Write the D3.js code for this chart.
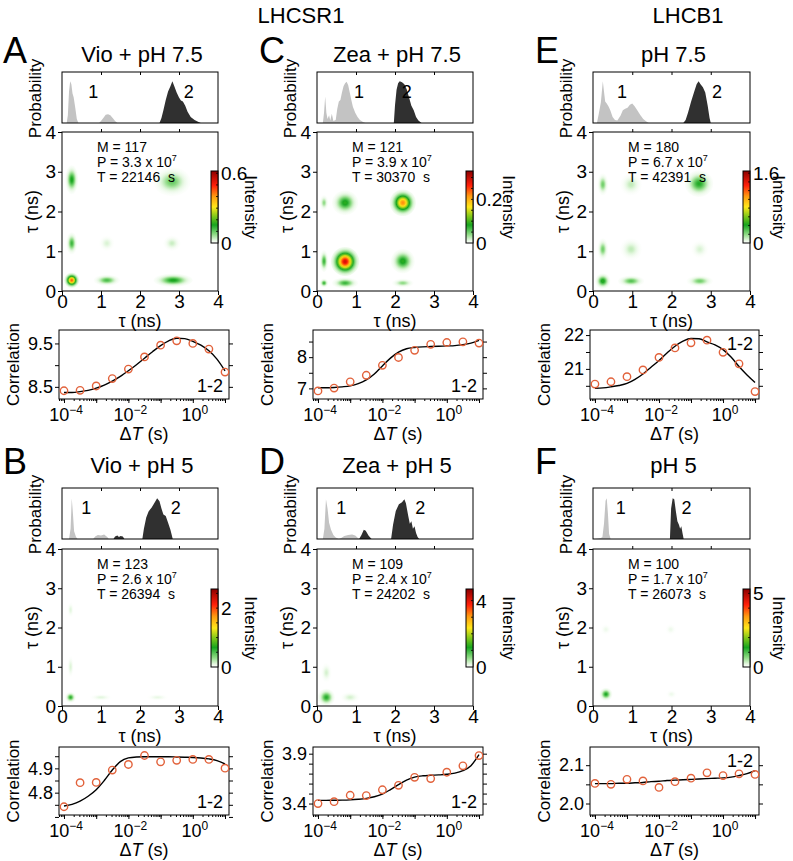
<!DOCTYPE html>
<html>
<head>
<meta charset="utf-8">
<script src="https://cdn.jsdelivr.net/npm/d3@7"></script>
<style>
body { margin: 0; background: #fff; }
svg { font-family: "Liberation Sans", Arial, sans-serif; }
</style>
</head>
<body>
<svg id="fig" width="793" height="861"></svg>
<script>
// ---------------- data ----------------
const groupHeaders = ["LHCSR1", "LHCB1"];
const panelLetters = ["A", "C", "E", "B", "D", "F"];
const panelTitles = ["Vio + pH 7.5", "Zea + pH 7.5", "pH 7.5", "Vio + pH 5", "Zea + pH 5", "pH 5"];
const statM = [117, 121, 180, 123, 109, 100];
const statP = ["3.3", "3.9", "6.7", "2.6", "2.4", "1.7"];
const statT = [22146, 30370, 42391, 26394, 24202, 26073];
const tauTicks = [0, 1, 2, 3, 4];

// lifetime distributions, [tau (ns), probability]
const histA1 = [[0.12,0],[0.15,0.15],[0.18,0.62],[0.21,0.82],[0.24,0.76],[0.27,0.58],[0.3,0.5],[0.34,0.3],[0.38,0.08],[0.42,0],[0.95,0],[1.0,0.04],[1.06,0.1],[1.12,0.16],[1.18,0.17],[1.24,0.15],[1.3,0.1],[1.36,0.04],[1.42,0]];
const histA2 = [[2.5,0],[2.55,0.1],[2.6,0.25],[2.66,0.45],[2.72,0.62],[2.78,0.72],[2.83,0.82],[2.88,0.72],[2.94,0.6],[3.0,0.5],[3.05,0.44],[3.1,0.42],[3.16,0.34],[3.22,0.22],[3.3,0.12],[3.4,0.06],[3.5,0.02],[3.56,0]];
const histC1 = [[0.15,0],[0.18,0.2],[0.21,0.52],[0.24,0.2],[0.27,0.08],[0.31,0.15],[0.34,0.05],[0.38,0.18],[0.42,0.04],[0.48,0.06],[0.52,0.28],[0.56,0.42],[0.6,0.45],[0.64,0.6],[0.68,0.72],[0.72,0.78],[0.76,0.81],[0.8,0.74],[0.84,0.6],[0.88,0.45],[0.92,0.32],[0.98,0.2],[1.04,0.12],[1.1,0.06],[1.18,0.02],[1.24,0]];
const histC2 = [[1.97,0],[2.0,0.35],[2.04,0.65],[2.08,0.78],[2.12,0.82],[2.18,0.8],[2.24,0.76],[2.3,0.66],[2.36,0.5],[2.42,0.34],[2.48,0.25],[2.54,0.12],[2.6,0.05],[2.68,0]];
const histE1 = [[0.1,0],[0.14,0.15],[0.2,0.4],[0.25,0.82],[0.28,0.62],[0.31,0.42],[0.35,0.38],[0.4,0.32],[0.44,0.25],[0.5,0.12],[0.56,0.06],[0.62,0.05],[0.7,0.14],[0.76,0.25],[0.82,0.28],[0.88,0.3],[0.94,0.36],[1.0,0.38],[1.06,0.33],[1.12,0.26],[1.2,0.16],[1.28,0.08],[1.36,0.03],[1.42,0]];
const histE2 = [[2.3,0],[2.36,0.06],[2.42,0.2],[2.5,0.42],[2.58,0.62],[2.64,0.76],[2.69,0.82],[2.74,0.76],[2.8,0.7],[2.86,0.6],[2.92,0.35],[2.97,0.1],[3.0,0]];
const histB1 = [[0.18,0],[0.22,0.2],[0.25,0.8],[0.28,0.5],[0.31,0.15],[0.36,0.04],[0.4,0],[0.8,0],[0.85,0.05],[0.92,0.08],[1.0,0.07],[1.08,0.09],[1.16,0.04],[1.2,0]];
const histB2 = [[1.32,0],[1.36,0.05],[1.42,0.07],[1.46,0.04],[1.5,0.06],[1.56,0.05],[1.6,0],[2.06,0],[2.1,0.2],[2.16,0.42],[2.22,0.54],[2.3,0.62],[2.38,0.72],[2.44,0.8],[2.5,0.74],[2.55,0.6],[2.6,0.48],[2.66,0.45],[2.72,0.32],[2.78,0.18],[2.84,0]];
const histD1 = [[0.15,0],[0.19,0.2],[0.23,0.78],[0.27,0.6],[0.31,0.32],[0.36,0.18],[0.42,0.08],[0.48,0.03],[0.56,0],[0.62,0.02],[0.7,0.06],[0.8,0.08],[0.9,0.09],[0.98,0.07],[1.05,0.02],[1.09,0]];
const histD2 = [[1.08,0],[1.14,0.08],[1.2,0.18],[1.25,0.16],[1.32,0.07],[1.4,0],[1.9,0],[1.95,0.28],[2.02,0.55],[2.1,0.68],[2.18,0.72],[2.24,0.78],[2.28,0.7],[2.34,0.45],[2.38,0.3],[2.42,0.35],[2.46,0.2],[2.5,0.25],[2.54,0.12],[2.58,0.04],[2.62,0]];
const histF1 = [[0.05,0],[0.2,0.02],[0.24,0.04],[0.28,0.3],[0.32,0.75],[0.35,0.8],[0.38,0.5],[0.41,0.1],[0.45,0]];
const histF2 = [[1.96,0],[1.99,0.6],[2.03,0.8],[2.07,0.78],[2.11,0.55],[2.15,0.35],[2.19,0.28],[2.22,0.2],[2.25,0.25],[2.28,0.12],[2.31,0]];
// where the "1" / "2" state labels sit (tau)
const stateLabelTau = [[0.8,3.25],[1.08,2.3],[0.74,3.16],[0.62,2.92],[0.62,2.65],[0.71,2.38]];

// 2D lifetime correlation spots: [tau1, tau2, intensity, sigma1, sigma2]
const spotsA = [[0.25,0.27,0.45,0.07,0.07],[1.15,0.27,0.12,0.12,0.05],[2.85,0.27,0.16,0.18,0.06],[0.25,1.2,0.13,0.05,0.1],[0.25,2.8,0.16,0.06,0.13],[2.82,2.75,0.1,0.17,0.13],[1.15,1.2,0.03,0.07,0.07],[2.82,1.2,0.04,0.08,0.07]];
const spotsC = [[0.72,0.74,0.29,0.13,0.13],[2.2,2.22,0.22,0.12,0.12],[0.72,2.22,0.09,0.12,0.11],[2.2,0.75,0.09,0.11,0.11],[0.18,0.75,0.07,0.04,0.1],[0.18,2.22,0.04,0.04,0.07],[0.18,0.2,0.07,0.04,0.04],[0.72,0.2,0.07,0.12,0.05],[2.2,0.2,0.04,0.1,0.04]];
const spotsE = [[0.25,0.25,0.45,0.07,0.07],[0.97,0.25,0.3,0.12,0.05],[2.72,0.25,0.25,0.12,0.05],[0.25,1.05,0.25,0.05,0.1],[0.97,1.05,0.12,0.1,0.1],[2.72,1.05,0.08,0.08,0.08],[0.25,2.68,0.25,0.05,0.1],[0.97,2.68,0.12,0.1,0.1],[2.7,2.7,0.4,0.13,0.12]];
const spotsB = [[0.22,0.22,0.6,0.05,0.05],[0.22,1.0,0.12,0.03,0.1],[0.22,2.45,0.1,0.03,0.07],[1.0,0.22,0.1,0.1,0.03],[2.45,0.22,0.08,0.1,0.03]];
const spotsD = [[0.24,0.22,1.1,0.08,0.08],[0.24,0.85,0.25,0.05,0.09],[0.85,0.22,0.25,0.09,0.05]];
const spotsF = [[0.33,0.3,1.3,0.06,0.06],[2.0,0.3,0.12,0.05,0.04],[0.33,1.95,0.12,0.05,0.05],[1.98,1.95,0.12,0.05,0.05]];

// colour bars
const cbarMax = [0.62, 0.33, 1.65, 2.65, 4.7, 5.3];
const cbarTicks = [[0,0.1,0.2,0.3,0.4,0.5,0.6],[0,0.05,0.1,0.15,0.2,0.25,0.3],[0,0.2,0.4,0.6,0.8,1,1.2,1.4,1.6],[0,0.5,1,1.5,2,2.5],[0,1,2,3,4],[0,1,2,3,4,5]];
const cbarLabels = [[[0,"0"],[0.6,"0.6"]],[[0,"0"],[0.2,"0.2"]],[[0,"0"],[1.6,"1.6"]],[[0,"0"],[2,"2"]],[[0,"0"],[4,"4"]],[[0,"0"],[5,"5"]]];

// correlation vs lag time
const corrDT = [1e-4, 3.16e-4, 1e-3, 3.16e-3, 1e-2, 3.16e-2, 0.1, 0.316, 1, 3.16, 10];
const corrA = [8.41, 8.42, 8.52, 8.69, 8.91, 9.19, 9.46, 9.56, 9.50, 9.37, 8.84];
const corrC = [6.92, 7.01, 7.21, 7.42, 7.74, 7.99, 8.22, 8.41, 8.47, 8.49, 8.45];
const corrE = [20.55, 20.62, 20.77, 20.97, 21.34, 21.62, 21.77, 21.85, 21.49, 21.15, 20.33];
const corrB = [4.742, 4.841, 4.842, 4.893, 4.916, 4.953, 4.927, 4.933, 4.937, 4.937, 4.901];
const corrD = [3.40, 3.419, 3.483, 3.48, 3.538, 3.583, 3.663, 3.65, 3.714, 3.778, 3.881];
const corrF = [2.0525, 2.05, 2.063, 2.059, 2.042, 2.057, 2.066, 2.08, 2.073, 2.0775, 2.076];
const fitDT = [1e-4, 1.78e-4, 3.16e-4, 5.62e-4, 1e-3, 1.78e-3, 3.16e-3, 5.62e-3, 1e-2, 1.78e-2, 3.16e-2, 5.62e-2, 0.1, 0.178, 0.316, 0.562, 1, 1.78, 3.16, 5.62, 10];
const fitA = [8.37, 8.37, 8.39, 8.42, 8.47, 8.54, 8.63, 8.74, 8.87, 9.01, 9.16, 9.31, 9.45, 9.56, 9.62, 9.61, 9.55, 9.46, 9.33, 9.14, 8.87];
const fitC = [7.02, 7.02, 7.03, 7.05, 7.08, 7.15, 7.27, 7.46, 7.72, 7.97, 8.16, 8.27, 8.31, 8.33, 8.34, 8.35, 8.36, 8.37, 8.40, 8.45, 8.54];
const fitE = [20.43, 20.44, 20.47, 20.51, 20.57, 20.69, 20.85, 21.05, 21.25, 21.47, 21.67, 21.82, 21.90, 21.89, 21.80, 21.71, 21.57, 21.35, 21.07, 20.82, 20.60];
const fitB = [4.745, 4.752, 4.765, 4.785, 4.812, 4.850, 4.893, 4.928, 4.943, 4.947, 4.948, 4.948, 4.948, 4.948, 4.947, 4.946, 4.945, 4.943, 4.939, 4.932, 4.918];
const fitD = [3.432, 3.432, 3.433, 3.434, 3.437, 3.443, 3.452, 3.468, 3.495, 3.54, 3.59, 3.635, 3.665, 3.678, 3.683, 3.687, 3.693, 3.705, 3.73, 3.78, 3.89];
const fitF = [2.052, 2.052, 2.052, 2.053, 2.053, 2.054, 2.055, 2.057, 2.058, 2.060, 2.061, 2.062, 2.063, 2.064, 2.065, 2.066, 2.067, 2.069, 2.073, 2.078, 2.086];
const corrTicks = [[8.5,9,9.5],[7,7.5,8,8.5],[20.5,21,21.5,22],[4.7,4.75,4.8,4.85,4.9,4.95],[3.4,3.5,3.6,3.7,3.8,3.9],[2.0,2.05,2.1]];
const corrLabelVals = [[8.5,9.5],[7,8],[21,22],[4.8,4.9],[3.4,3.9],[2.0,2.1]];
const corrLabelFmt = [".1f","d","d",".1f",".1f",".1f"];
const corrYDomain = [[8.22,9.81],[6.66,8.87],[20.11,22.15],[4.708,4.988],[3.285,3.967],[1.97,2.1475]];
const pairLabel = "1-2";
const pairLabelTop = [false, false, true, false, false, true];
const decadeLabels = [-4, -2, 0];

// ---------------- layout ----------------
const cols = [
  {hx0: 62, hx1: 218, cx0: 59, cx1: 229, letterX: 3, cbLab: 27},
  {hx0: 317, hx1: 473, cx0: 313, cx1: 483, letterX: 259, cbLab: 30},
  {hx0: 593, hx1: 750, cx0: 590, cx1: 759, letterX: 535, cbLab: 23}
];
const rows = [
  {title: 62, prob: [72, 123], heat: [132, 291], cbar: [171, 243], corr: [330, 399]},
  {title: 473, prob: [488, 539], heat: [549, 706], cbar: [589, 667], corr: [747, 815]}
];
const headerX = [301, 688];
const corrXDomain = [7e-5, 13.3];

const histList1 = [histA1, histC1, histE1, histB1, histD1, histF1];
const histList2 = [histA2, histC2, histE2, histB2, histD2, histF2];
const spotList = [spotsA, spotsC, spotsE, spotsB, spotsD, spotsF];
const corrList = [corrA, corrC, corrE, corrB, corrD, corrF];
const fitList = [fitA, fitC, fitE, fitB, fitD, fitF];

const cmap = d3.scaleLinear()
  .domain([0, 0.04, 0.12, 0.25, 0.38, 0.5, 0.65, 0.8, 1])
  .range(["#ffffff", "#e2f6dd", "#8edb84", "#17a51f", "#8acb1a", "#ffe81a", "#ff9a10", "#ff1f0a", "#8c0000"])
  .clamp(true);

const svg = d3.select("#fig");
const defs = svg.append("defs");
const FONT = '"Liberation Sans", Arial, sans-serif';

function styleAxis(g, fs) {
  g.attr("font-family", FONT);
  g.select(".domain").remove();
  g.selectAll("line").attr("stroke", "#000").attr("stroke-width", 1);
  g.selectAll("text").attr("font-size", fs).attr("fill", "#000");
}

// column headers
svg.selectAll("text.hdr").data(groupHeaders).enter().append("text")
  .attr("class", "hdr")
  .attr("x", (d, i) => headerX[i]).attr("y", 23)
  .attr("text-anchor", "middle").attr("font-size", 22)
  .text(d => d);

panelLetters.forEach((letter, i) => {
  const c = cols[i % 3], r = rows[Math.floor(i / 3)];
  const g = svg.append("g");

  // letter + title
  g.append("text").attr("x", c.letterX).attr("y", r.title + 1)
    .attr("font-size", 36).text(letter);
  g.append("text").attr("x", (c.hx0 + c.hx1) / 2 + 2).attr("y", r.title)
    .attr("text-anchor", "middle").attr("font-size", 22).text(panelTitles[i]);

  // ---- probability histogram ----
  const hx = d3.scaleLinear().domain([0, 4]).range([c.hx0, c.hx1]);
  const py = d3.scaleLinear().domain([0, 1]).range([r.prob[1], r.prob[0]]);
  const area = d3.area().x(d => hx(d[0])).y0(py(0)).y1(d => py(d[1]));
  g.append("path").datum(histList1[i]).attr("d", area).attr("fill", "#c3c3c3");
  g.append("path").datum(histList2[i]).attr("d", area).attr("fill", "#303030");
  g.append("rect").attr("x", c.hx0).attr("y", r.prob[0])
    .attr("width", c.hx1 - c.hx0).attr("height", r.prob[1] - r.prob[0])
    .attr("fill", "none").attr("stroke", "#000").attr("stroke-width", 1);
  g.append("g").attr("transform", `translate(0,${r.prob[0]})`)
    .call(d3.axisTop(hx).tickValues([1, 2, 3]).tickSize(-3).tickFormat(""))
    .call(s => styleAxis(s, 12));
  g.selectAll("text.st").data(stateLabelTau[i]).enter().append("text")
    .attr("x", d => hx(d)).attr("y", py(0.5))
    .attr("text-anchor", "middle").attr("font-size", 18)
    .text((d, k) => k + 1);
  g.append("text")
    .attr("transform", `translate(${c.hx0 - 21},${(r.prob[0] + r.prob[1]) / 2 + 1}) rotate(-90)`)
    .attr("text-anchor", "middle").attr("font-size", 17).text("Probability");

  // ---- 2D lifetime map ----
  const hy = d3.scaleLinear().domain([0, 4]).range([r.heat[1], r.heat[0]]);
  const clipId = "clip" + i;
  defs.append("clipPath").attr("id", clipId).append("rect")
    .attr("x", c.hx0).attr("y", r.heat[0])
    .attr("width", c.hx1 - c.hx0).attr("height", r.heat[1] - r.heat[0]);
  const map = g.append("g").attr("clip-path", `url(#${clipId})`).style("isolation", "isolate");
  map.append("rect").attr("x", c.hx0).attr("y", r.heat[0])
    .attr("width", c.hx1 - c.hx0).attr("height", r.heat[1] - r.heat[0]).attr("fill", "#fff");
  const reach = 2.8;
  spotList[i].forEach((s, j) => {
    const gid = `sp${i}_${j}`;
    const grad = defs.append("radialGradient").attr("id", gid);
    d3.range(0, 13).forEach(k => {
      const t = k / 12, dd = reach * t;
      grad.append("stop").attr("offset", t)
        .attr("stop-color", cmap(s[2] * Math.exp(-dd * dd / 2) / cbarMax[i]));
    });
    map.append("ellipse")
      .attr("cx", hx(s[0])).attr("cy", hy(s[1]))
      .attr("rx", (hx(s[3]) - hx(0)) * reach).attr("ry", (hy(0) - hy(s[4])) * reach)
      .attr("fill", `url(#${gid})`).style("mix-blend-mode", "multiply");
  });
  g.append("rect").attr("x", c.hx0).attr("y", r.heat[0])
    .attr("width", c.hx1 - c.hx0).attr("height", r.heat[1] - r.heat[0])
    .attr("fill", "none").attr("stroke", "#000").attr("stroke-width", 1);
  g.append("g").attr("transform", `translate(${c.hx0},0)`)
    .call(d3.axisLeft(hy).tickValues(tauTicks).tickSize(4).tickPadding(2).tickFormat(d3.format("d")))
    .call(s => styleAxis(s, 19));
  const xa = g.append("g").attr("transform", `translate(0,${r.heat[1]})`)
    .call(d3.axisBottom(hx).tickValues(tauTicks).tickSize(4).tickFormat(d3.format("d")))
    .call(s => styleAxis(s, 19));
  xa.selectAll("text").attr("y", 17).attr("dy", null);
  g.append("g").attr("transform", `translate(0,${r.heat[0]})`)
    .call(d3.axisTop(hx).tickValues([1, 2, 3]).tickSize(3).tickFormat(""))
    .call(s => styleAxis(s, 12));
  g.append("text").attr("x", (c.hx0 + c.hx1) / 2).attr("y", r.heat[1] + 36)
    .attr("text-anchor", "middle").attr("font-size", 18).text("\u03c4 (ns)");
  g.append("text")
    .attr("transform", `translate(${c.hx0 - 24},${(r.heat[0] + r.heat[1]) / 2}) rotate(-90)`)
    .attr("text-anchor", "middle").attr("font-size", 18).text("\u03c4 (ns)");

  // stats text
  const st = g.append("g").attr("font-size", 14);
  st.append("text").attr("x", c.hx0 + 35).attr("y", r.heat[0] + 20).text(`M = ${statM[i]}`);
  const pt = st.append("text").attr("x", c.hx0 + 35).attr("y", r.heat[0] + 35);
  pt.append("tspan").text(`P = ${statP[i]} x 10`);
  pt.append("tspan").attr("dy", -6).attr("font-size", 9).text("7");
  st.append("text").attr("x", c.hx0 + 35).attr("y", r.heat[0] + 50)
    .style("white-space", "pre").text(`T = ${statT[i]}  s`);

  // colour bar
  const cbW = 7;
  const cy = d3.scaleLinear().domain([0, cbarMax[i]]).range([r.cbar[1], r.cbar[0]]);
  const lg = defs.append("linearGradient").attr("id", "cb" + i)
    .attr("x1", 0).attr("y1", 1).attr("x2", 0).attr("y2", 0);
  cmap.domain().forEach(v => lg.append("stop").attr("offset", v).attr("stop-color", cmap(v)));
  g.append("rect").attr("x", c.hx1 - cbW).attr("y", r.cbar[0])
    .attr("width", cbW).attr("height", r.cbar[1] - r.cbar[0])
    .attr("fill", `url(#cb${i})`).attr("stroke", "#000").attr("stroke-width", 1);
  g.selectAll("line.cbt").data(cbarTicks[i].filter(v => v > 0 && v < cbarMax[i])).enter().append("line")
    .attr("x1", c.hx1 - 2).attr("x2", c.hx1).attr("y1", d => cy(d)).attr("y2", d => cy(d))
    .attr("stroke", "#000").attr("stroke-width", 0.8);
  g.selectAll("text.cbl").data(cbarLabels[i]).enter().append("text")
    .attr("x", c.hx1 + 3).attr("y", d => cy(d[0]) + 7)
    .attr("font-size", 19).text(d => d[1]);
  g.append("text")
    .attr("transform", `translate(${c.hx1 + c.cbLab},${(r.cbar[0] + r.cbar[1]) / 2}) rotate(90)`)
    .attr("text-anchor", "middle").attr("font-size", 17).text("Intensity");

  // ---- correlation vs lag time ----
  const lx = d3.scaleLog().domain(corrXDomain).range([c.cx0, c.cx1]);
  const ly = d3.scaleLinear().domain(corrYDomain[i]).range([r.corr[1], r.corr[0]]);
  const fmt = d3.format(corrLabelFmt[i]);
  const labs = corrLabelVals[i];
  g.append("g").attr("transform", `translate(${c.cx0},0)`)
    .call(d3.axisLeft(ly).tickValues(corrTicks[i]).tickSize(4).tickPadding(2)
      .tickFormat(v => labs.some(l => Math.abs(l - v) < 1e-9) ? fmt(v) : ""))
    .call(s => styleAxis(s, 18));
  g.append("g").attr("transform", `translate(${c.cx1},0)`)
    .call(d3.axisRight(ly).tickValues(corrTicks[i]).tickSize(4).tickFormat(""))
    .call(s => styleAxis(s, 12));
  g.append("g").attr("transform", `translate(0,${r.corr[1]})`)
    .call(d3.axisBottom(lx).tickValues(lx.ticks()).tickSize(2).tickFormat(""))
    .call(s => styleAxis(s, 12));
  g.append("g").attr("transform", `translate(0,${r.corr[1]})`)
    .call(d3.axisBottom(lx).tickValues([1e-4, 1e-3, 1e-2, 1e-1, 1, 10]).tickSize(4).tickFormat(""))
    .call(s => styleAxis(s, 12));
  decadeLabels.forEach(e => {
    const t = g.append("text").attr("x", lx(Math.pow(10, e)) + 2).attr("y", r.corr[1] + 22)
      .attr("text-anchor", "middle").attr("font-size", 18);
    t.append("tspan").text("10");
    t.append("tspan").attr("dy", -7).attr("font-size", 12).text(e === 0 ? "0" : "\u2212" + Math.abs(e));
  });
  g.append("rect").attr("x", c.cx0).attr("y", r.corr[0])
    .attr("width", c.cx1 - c.cx0).attr("height", r.corr[1] - r.corr[0])
    .attr("fill", "none").attr("stroke", "#000").attr("stroke-width", 1);
  const line = d3.line().x((d, k) => lx(fitDT[k])).y(d => ly(d)).curve(d3.curveMonotoneX);
  g.append("path").datum(fitList[i]).attr("d", line)
    .attr("fill", "none").attr("stroke", "#000").attr("stroke-width", 1.4);
  g.selectAll("circle.pt").data(corrList[i]).enter().append("circle")
    .attr("cx", (d, k) => lx(corrDT[k])).attr("cy", d => ly(d)).attr("r", 3.7)
    .attr("fill", "none").attr("stroke", "#e2623b").attr("stroke-width", 1.4);
  g.append("text").attr("x", c.cx1 - 6)
    .attr("y", pairLabelTop[i] ? r.corr[0] + 20 : r.corr[1] - 7)
    .attr("text-anchor", "end").attr("font-size", 18).text(pairLabel);
  g.append("text")
    .attr("transform", `translate(${c.cx0 - 40},${(r.corr[0] + r.corr[1]) / 2}) rotate(-90)`)
    .attr("text-anchor", "middle").attr("font-size", 17).text("Correlation");
  const xl = g.append("text").attr("x", (c.cx0 + c.cx1) / 2).attr("y", r.corr[1] + 41)
    .attr("text-anchor", "middle").attr("font-size", 18);
  xl.append("tspan").text("\u0394");
  xl.append("tspan").attr("font-style", "italic").text("T");
  xl.append("tspan").text(" (s)");
});
</script>
</body>
</html>
